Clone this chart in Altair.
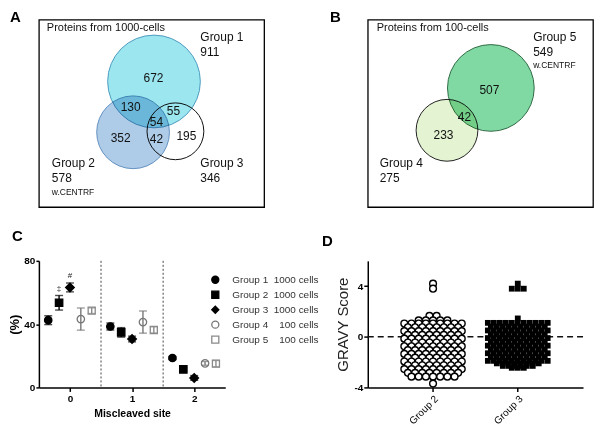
import altair as alt
import pandas as pd

FONT = "Liberation Sans"
NB = "\u00a0"

# ---------------- Panel A : Venn (1000 cells) ----------------
a_sets = ["Group 2", "Group 1", "Group 3"]
a_totals = [578, 911, 346]
a_region_counts = [672, 130, 55, 54, 352, 42, 195]
# layout (box-relative, px-like units)
a_cx = [94.5, 115.5, 137.0]
a_cy = [118.0, 67.0, 117.0]
a_r = [36.5, 46.5, 28.5]
a_fill = ["#aecbe8", "#9be6ef", "transparent"]
a_stroke = ["#6392c0", "#4f9cbf", "#111111"]
a_rx = [115, 92, 135, 118, 82, 118, 148]
a_ry = [64, 93, 97, 108, 124, 125, 122]

# ---------------- Panel B : Venn (100 cells) ----------------
b_sets = ["Group 4", "Group 5"]
b_totals = [275, 549]
b_region_counts = [507, 42, 233]
b_cx = [79.5, 123.5]
b_cy = [116.0, 73.5]
b_r = [31.0, 43.5]
b_fill = ["#e4f4d2", "#80d8a3"]
b_stroke = ["#222222", "#2f6a43"]
b_rx = [122, 97, 76]
b_ry = [76, 103, 121]

# ---------------- Panel C : miscleaved sites ----------------
groups = ["Group 1", "Group 2", "Group 3", "Group 4", "Group 5"]
cells = [1000, 1000, 1000, 100, 100]
sites = [0, 1, 2]
means = [
    [42.5, 38.5, 18.6],
    [53.5, 34.8, 11.4],
    [63.2, 30.6, 6.0],
    [43.2, 41.3, 15.2],
    [48.5, 36.3, 15.0],
]
errs = [
    [2.8, 2.2, 1.0],
    [4.6, 3.0, 1.0],
    [2.8, 1.8, 1.5],
    [7.0, 7.0, 1.2],
    [1.8, 2.0, 2.0],
]
signif = [["", "", ""], ["\u2021", "", ""], ["#", "", ""], ["", "", ""], ["", "", ""]]
separators = [0.5, 1.5]
dodge = [-0.35, -0.175, 0.0, 0.175, 0.35]
shapes = ["circle", "square", "diamond", "circle", "square"]
fills = ["black", "black", "black", "transparent", "transparent"]
strokes = ["black", "black", "black", "#777777", "#8a8a8a"]
msizes = [55, 55, 75, 55, 50]

# ---------------- Panel D : GRAVY score ----------------
g2_levels = [4.2, 3.8, 1.65, 1.3, 1.05, 0.75, 0.45, 0.15, -0.15, -0.45, -0.75,
             -1.05, -1.35, -1.65, -1.95, -2.25, -2.55, -2.85, -3.15, -3.7]
g2_counts = [1, 1, 2, 5, 9, 8, 9, 8, 9, 8, 9, 8, 9, 8, 9, 8, 9, 8, 7, 1]
g3_levels = [4.2, 3.8, 1.45, 1.1, 0.8, 0.5, 0.2, -0.1, -0.4, -0.7, -1.0,
             -1.3, -1.6, -1.9, -2.1, -2.3, -2.45]
g3_counts = [1, 3, 1, 11, 10, 11, 10, 11, 10, 11, 10, 11, 10, 11, 8, 6, 3]

BOX_W, BOX_H = 226, 188
BOX_Y0 = 5
ROW_GAP = 54
C_W, C_H = 187, 127
D_W = 216


def venn(letter, letter_dx, title_txt, sets, totals, cx, cy, r, fill, stroke,
         counts, rx, ry, label_pos, extra_pos):
    circ = pd.DataFrame({"set": sets, "cx": cx, "cy": cy,
                         "s": [(2 * v) ** 2 for v in r],
                         "fill": fill, "stroke": stroke})
    cnt = pd.DataFrame({"t": [str(c) for c in counts], "x": rx, "y": ry})
    lab_t, lab_x, lab_y, lab_s = [title_txt], [label_pos[0][0]], [label_pos[0][1]], [11]
    for name, tot, (lx, ly) in zip(sets, totals, label_pos[1:]):
        lab_t += [name, str(tot)]
        lab_x += [lx, lx]
        lab_y += [ly, ly + 15]
        lab_s += [12, 12]
    lab_t.append("w.CENTRF")
    lab_x.append(extra_pos[0])
    lab_y.append(extra_pos[1])
    lab_s.append(8.5)
    lab = pd.DataFrame({"t": lab_t, "x": lab_x, "y": lab_y, "s": lab_s})

    xs = alt.Scale(domain=[0, BOX_W], nice=False, zero=False)
    ys = alt.Scale(domain=[BOX_Y0, BOX_Y0 + BOX_H], nice=False, zero=False, reverse=True)

    c = alt.Chart(circ).mark_point(shape="circle", opacity=1, strokeWidth=1,
                                   blend="multiply", clip=True).encode(
        x=alt.X("cx:Q", scale=xs, axis=None),
        y=alt.Y("cy:Q", scale=ys, axis=None),
        size=alt.Size("s:Q", scale=None),
        fill=alt.Fill("fill:N", scale=None),
        stroke=alt.Stroke("stroke:N", scale=None),
    )
    t = alt.Chart(cnt).mark_text(fontSize=12, font=FONT, color="#111").encode(
        x=alt.X("x:Q", scale=xs, axis=None),
        y=alt.Y("y:Q", scale=ys, axis=None),
        text="t:N",
    )
    l = alt.Chart(lab).mark_text(align="left", baseline="middle", font=FONT,
                                 color="#111").encode(
        x=alt.X("x:Q", scale=xs, axis=None),
        y=alt.Y("y:Q", scale=ys, axis=None),
        size=alt.Size("s:Q", scale=None),
        text="t:N",
    )
    return alt.layer(c, t, l).properties(
        width=BOX_W, height=BOX_H,
        view=alt.ViewBackground(stroke="black", strokeWidth=1.3),
        title=alt.TitleParams(letter, anchor="start", frame="group", dx=letter_dx,
                              fontSize=15, fontWeight="bold", font=FONT,
                              offset=-20, baseline="bottom"),
    )


panel_a = venn("A", -29, "Proteins from 1000-cells", a_sets, a_totals,
               a_cx, a_cy, a_r, a_fill, a_stroke, a_region_counts, a_rx, a_ry,
               [(8, 13), (13, 149), (162, 22), (162, 149)], (13, 178))

panel_b = venn("B", -38, "Proteins from 100-cells", b_sets, b_totals,
               b_cx, b_cy, b_r, b_fill, b_stroke, b_region_counts, b_rx, b_ry,
               [(9, 13), (12, 149), (166, 22)], (166, 50))

# ---------------- build C ----------------
rows = []
for gi, g in enumerate(groups):
    pad = 2 if cells[gi] >= 1000 else 4
    label = f"{g}{NB * pad}{cells[gi]} cells"
    for si, s in enumerate(sites):
        m, e = means[gi][si], errs[gi][si]
        rows.append({"label": label, "pos": s + dodge[gi], "mean": m,
                     "lo": m - e, "hi": m + e, "mark": signif[gi][si],
                     "ecol": strokes[gi], "ms": msizes[gi]})
cdf = pd.DataFrame(rows)
labels = list(dict.fromkeys(cdf["label"]))

cx_ax = alt.X("pos:Q", scale=alt.Scale(domain=[-0.5, 2.5], nice=False, zero=False),
              axis=alt.Axis(values=[0, 1, 2], format="d", title="Miscleaved site",
                            titleFontSize=10.5, titleFontWeight="bold",
                            titlePadding=5, labelPadding=2))
cy_ax = alt.Y("mean:Q", scale=alt.Scale(domain=[0, 80]),
              axis=alt.Axis(values=[0, 20, 40, 60, 80], title="(%)",
                            titleFontSize=13, titleFontWeight="bold",
                            titlePadding=2, labelPadding=1, tickSize=3))

sep = alt.Chart(pd.DataFrame({"sep": separators})).mark_rule(
    strokeDash=[2, 2], color="#444", strokeWidth=1).encode(x=alt.X("sep:Q"))

ebar = alt.Chart(cdf).mark_errorbar(ticks=True, size=8, thickness=1.4).encode(
    x=cx_ax,
    y=alt.Y("lo:Q", title="(%)"),
    y2="hi:Q",
    color=alt.Color("ecol:N", scale=None),
)
pts = alt.Chart(cdf).mark_point(opacity=1, strokeWidth=1.3).encode(
    x=cx_ax,
    y=cy_ax,
    size=alt.Size("ms:Q", scale=None),
    shape=alt.Shape("label:N", title=None,
                    scale=alt.Scale(domain=labels, range=shapes)),
    fill=alt.Fill("label:N", title=None,
                  scale=alt.Scale(domain=labels, range=fills)),
    stroke=alt.Stroke("label:N", title=None,
                      scale=alt.Scale(domain=labels, range=strokes)),
)
ann = alt.Chart(cdf).mark_text(dy=-7, fontSize=8, font=FONT, color="#222").encode(
    x=cx_ax, y=alt.Y("hi:Q"), text="mark:N")

panel_c = alt.layer(sep, ebar, pts, ann).properties(
    width=C_W, height=C_H,
    title=alt.TitleParams("C", anchor="start", frame="group", dx=-27,
                          fontSize=15, fontWeight="bold", font=FONT, offset=12),
)

# ---------------- build D ----------------
def swarm(name, levels, counts, step):
    out = []
    for v, n in zip(levels, counts):
        for i in range(n):
            out.append({"grp": name, "v": v, "off": (i - (n - 1) / 2) * step})
    return out

ddf = pd.DataFrame(swarm("Group 2", g2_levels, g2_counts, 7.2) +
                   swarm("Group 3", g3_levels, g3_counts, 6.0))

dx_enc = alt.X("grp:N", scale=alt.Scale(domain=["Group 2", "Group 3"],
                                        paddingInner=0.2, paddingOuter=0.37),
               axis=alt.Axis(title=None, labelAngle=-45, labelFontWeight="normal",
                             labelFontSize=10, labelPadding=2))
dxo = alt.XOffset("off:Q", scale=alt.Scale(domain=[-34, 34]))
dy_enc = alt.Y("v:Q", scale=alt.Scale(domain=[-4, 6]),
               axis=alt.Axis(values=[-4, -2, 0, 2, 4, 6], title="GRAVY Score",
                             labelExpr="(datum.value < 0 ? '-' : '') + abs(datum.value)",
                             titleFontSize=15, titleFontWeight="normal",
                             titleColor="#222", titlePadding=3, labelPadding=1))

zero = alt.Chart(pd.DataFrame({"z": [0]})).mark_rule(
    strokeDash=[6, 4], strokeWidth=1.6, color="#111").encode(y=alt.Y("z:Q"))
g2 = alt.Chart(ddf).transform_filter(alt.datum.grp == "Group 2").mark_point(
    shape="circle", size=46, fill="white", stroke="black", strokeWidth=1.4,
    opacity=1, filled=False).encode(x=dx_enc, xOffset=dxo, y=dy_enc)
g3 = alt.Chart(ddf).transform_filter(alt.datum.grp == "Group 3").mark_square(
    size=34, color="black", opacity=1).encode(x=dx_enc, xOffset=dxo, y=dy_enc)

panel_d = alt.layer(zero, g2, g3).properties(
    width=D_W, height=C_H,
    title=alt.TitleParams("D", anchor="start", frame="group", dx=-46,
                          fontSize=15, fontWeight="bold", font=FONT, offset=12),
)

chart = alt.concat(panel_a, panel_b, panel_c, panel_d, columns=2, bounds="flush",
                   spacing={"row": ROW_GAP, "column": 104}).properties(
    padding=0
).configure(font=FONT).configure_view(stroke=None).configure_axis(
    grid=False, domainColor="black", tickColor="black", labelColor="black",
    titleColor="black", domainWidth=1.5, tickWidth=1.5, tickSize=4,
    labelFontSize=10, labelFontWeight="bold", labelFont=FONT, titleFont=FONT,
    labelOverlap=False,
).configure_legend(
    orient="none", legendX=172, legendY=BOX_H + ROW_GAP + 14, padding=0,
    symbolSize=50, symbolStrokeWidth=1.3, labelFontSize=10, labelFont=FONT,
    labelColor="#333", labelOffset=12, rowPadding=1, labelLimit=200,
)

chart.save("out.html", embed_options={"renderer": "svg", "actions": False})
